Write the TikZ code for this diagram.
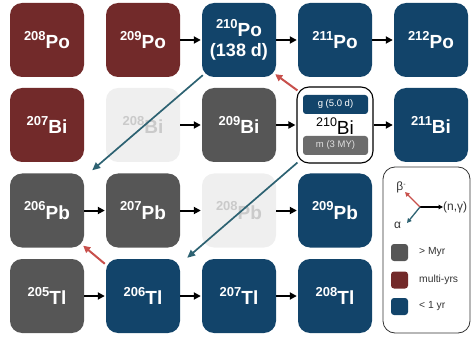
\documentclass[tikz,border=0pt]{standalone}
\usepackage{fontspec}
\setmainfont{Liberation Sans}
\usetikzlibrary{arrows.meta,calc}
\definecolor{cred}{HTML}{722A2A}
\definecolor{cblue}{HTML}{12446A}
\definecolor{cgray}{HTML}{565656}
\definecolor{cghost}{HTML}{EFEFEF}
\definecolor{cghosttext}{HTML}{CACACA}
\definecolor{cteal}{HTML}{2D6272}
\definecolor{cbeta}{HTML}{C8504C}
\definecolor{cmgray}{HTML}{6C6C6C}
\definecolor{ctext}{HTML}{333333}
\newcommand{\isot}[2]{{\fontsize{13}{13}\selectfont\raisebox{8.5pt}{#1}}{\fontsize{19}{19}\selectfont #2}}
\begin{document}
\begin{tikzpicture}[x=1pt,y=-1pt,
  nbox/.style={rounded corners=12pt,minimum width=74pt,minimum height=74pt,inner sep=0pt,text=white,font=\bfseries},
  longc/.style={nbox,fill=cred},
  shortc/.style={nbox,fill=cblue},
  stablec/.style={nbox,fill=cgray},
  ghostc/.style={nbox,fill=cghost,text=cghosttext},
  ngam/.style={-{Triangle[length=7pt,width=7pt]},line width=2pt,black,shorten >=1pt},
  alph/.style={-{Triangle[length=8pt,width=7pt]},line width=1.7pt,cteal},
  bet/.style={-{Triangle[length=7pt,width=7pt]},line width=2pt,cbeta},
  bar/.style={rounded corners=3pt,minimum width=65pt,minimum height=19pt,inner sep=0pt,font=\fontsize{9.5}{10}\selectfont},
  sw/.style={rounded corners=3pt,minimum width=17pt,minimum height=17pt,inner sep=0pt},
  legtext/.style={anchor=west,text=ctext,font=\fontsize{10.3}{11}\selectfont,inner sep=0pt},
  larr/.style={-{Triangle[length=4.5pt,width=4.5pt]},line width=1.3pt}
]
\useasboundingbox (0,0) rectangle (472,337);
% row 1
\node[longc] (po208) at (47,40) {\isot{208}{Po}};
\node[longc] (po209) at (143,40) {\isot{209}{Po}};
\node[shortc,align=center,font=\bfseries\fontsize{18}{20}\selectfont] (po210) at (239,40) {\isot{210}{Po}\\(138 d)};
\node[shortc] (po211) at (335,40) {\isot{211}{Po}};
\node[shortc] (po212) at (431,40) {\isot{212}{Po}};
% row 2
\node[longc] (bi207) at (47,125) {\isot{207}{Bi}};
\node[ghostc] (bi208) at (143,125) {\isot{208}{Bi}};
\node[stablec] (bi209) at (239,125) {\isot{209}{Bi}};
\node[nbox,fill=white,draw=black,line width=1.1pt,minimum width=76pt,minimum height=76pt,text=black,font=\mdseries] (bi210) at (335,125) {};
\node[shortc] (bi211) at (431,125) {\isot{211}{Bi}};
\node[bar,fill=cblue,text=white] (bi210g) at (335.5,104.5) {g (5.0 d)};
\node[bar,fill=cmgray,text=white!88!black] (bi210m) at (335.5,145.5) {m (3 MY)};
\node[inner sep=0pt,anchor=base] (bi210t) at (335,135) {{\fontsize{12.5}{13}\selectfont\raisebox{8pt}{210}}{\fontsize{19}{19}\selectfont Bi}};
% row 3
\node[stablec] (pb206) at (47,210.5) {\isot{206}{Pb}};
\node[stablec] (pb207) at (143,210.5) {\isot{207}{Pb}};
\node[ghostc] (pb208) at (239,210.5) {\isot{208}{Pb}};
\node[shortc] (pb209) at (335,210.5) {\isot{209}{Pb}};
% row 4
\node[stablec] (tl205) at (47,296) {\isot{205}{Tl}};
\node[shortc] (tl206) at (143,296) {\isot{206}{Tl}};
\node[shortc] (tl207) at (239,296) {\isot{207}{Tl}};
\node[shortc] (tl208) at (335,296) {\isot{208}{Tl}};
% n,gamma arrows
\draw[ngam] (po209.east) -- (po210.west);
\draw[ngam] (po210.east) -- (po211.west);
\draw[ngam] (po211.east) -- (po212.west);
\draw[ngam] (bi208.east) -- (bi209.west);
\draw[ngam] (bi209.east) -- (bi210.west);
\draw[ngam] (bi210.east) -- (bi211.west);
\draw[ngam] (pb206.east) -- (pb207.west);
\draw[ngam] (pb207.east) -- (pb208.west);
\draw[ngam] (pb208.east) -- (pb209.west);
\draw[ngam] (tl205.east) -- (tl206.west);
\draw[ngam] (tl206.east) -- (tl207.west);
\draw[ngam] (tl207.east) -- (tl208.west);
% alpha
\draw[alph] ($(po210.south west)+(1,-2)$) -- ($(pb206.north east)+(8,-3)$);
\draw[alph] ($(bi210.south west)+(1,-1)$) -- ($(tl206.north east)+(7,-1)$);
% beta
\draw[bet] ($(bi210.north west)+(1,4)$) -- ($(po210.south east)+(-1,-3)$);
\draw[bet] ($(tl206.north west)+(-1,5)$) -- ($(pb206.south east)+(-1,-2)$);
% legend
\node[draw=ctext,line width=0.8pt,rounded corners=12pt,minimum width=87pt,minimum height=166pt,inner sep=0pt] (leg) at (426.5,250) {};
\coordinate (lc) at (420,207);
\coordinate (lng) at (443,207);
\coordinate (lb) at (405,192);
\coordinate (la) at (407,223);
\draw[larr,black] (lc) -- (lng);
\draw[larr,cbeta] (lc) -- (lb);
\draw[larr,cteal] (lc) -- (la);
\node[anchor=west,inner sep=0pt,text=ctext,font=\fontsize{12}{12}\selectfont] (lngt) at (443,207.5) {(n,γ)};
\node[inner sep=0pt,text=ctext,font=\fontsize{12}{12}\selectfont] (lbt) at (401,187) {β\raisebox{4pt}{\fontsize{7}{7}\selectfont -}};
\node[inner sep=0pt,text=ctext,font=\fontsize{12}{12}\selectfont] (lat) at (397.5,225) {α};
\node[sw,fill=cgray] (sw1) at (399.5,252.5) {};
\node[sw,fill=cred] (sw2) at (399.5,280) {};
\node[sw,fill=cblue] (sw3) at (399.5,306.5) {};
\node[legtext] (lt1) at (419,252.5) {> Myr};
\node[legtext] (lt2) at (419,280) {multi-yrs};
\node[legtext] (lt3) at (419,306.5) {< 1 yr};
\end{tikzpicture}
\end{document}
